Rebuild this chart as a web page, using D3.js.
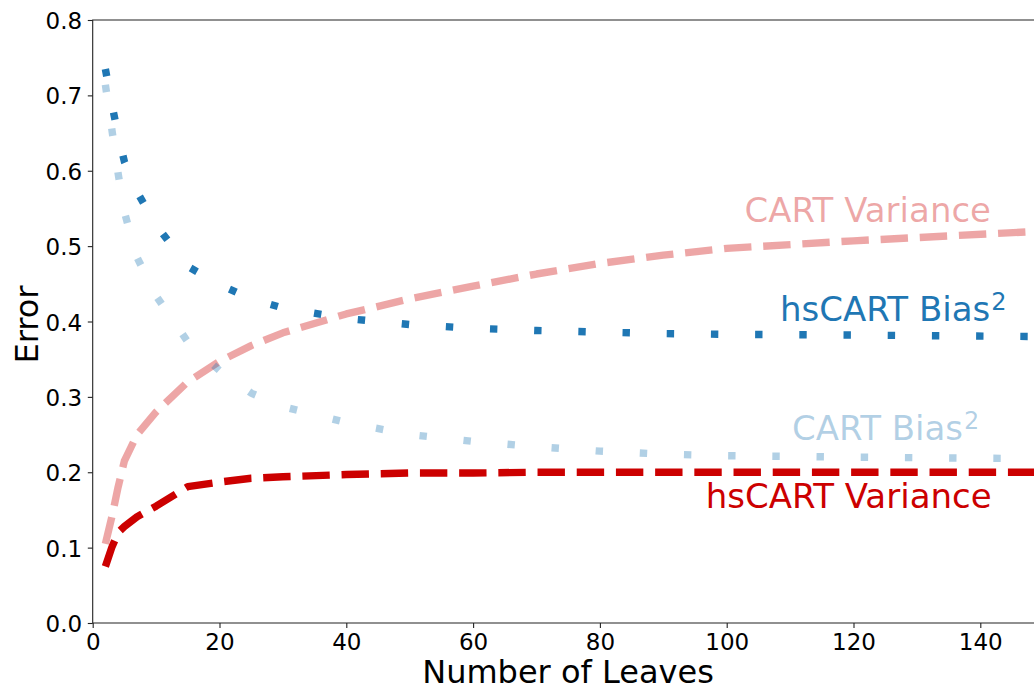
<!DOCTYPE html>
<html>
<head>
<meta charset="utf-8">
<script src="https://cdn.jsdelivr.net/npm/d3@7"></script>
<style>
  body { margin: 0; background: #fff; }
  svg { display: block; font-family: "DejaVu Sans", sans-serif; }
</style>
</head>
<body>
<div id="graphic"></div>
<script>
// Number of leaves (x grid shared by every series)
const leaves = [2, 3, 4, 5, 7, 10, 15, 20, 25, 30, 40, 50, 60, 70, 80, 90, 100, 120, 150];

// Error values
const cartVariance   = [0.105, 0.14, 0.18, 0.215, 0.25, 0.28, 0.32, 0.347, 0.368, 0.385, 0.41, 0.43, 0.447, 0.463, 0.477, 0.488, 0.497, 0.507, 0.52];
const hsCartVariance = [0.075, 0.10, 0.12, 0.128, 0.141, 0.155, 0.181, 0.187, 0.192, 0.194, 0.197, 0.199, 0.199, 0.2, 0.2, 0.2, 0.2, 0.2, 0.2];
const hsCartBias     = [0.735, 0.689, 0.648, 0.612, 0.572, 0.528, 0.473, 0.449, 0.43, 0.418, 0.404, 0.396, 0.391, 0.388, 0.386, 0.384, 0.383, 0.382, 0.38];
const cartBias       = [0.714, 0.656, 0.597, 0.545, 0.485, 0.434, 0.373, 0.335, 0.305, 0.287, 0.266, 0.25, 0.241, 0.234, 0.228, 0.224, 0.222, 0.22, 0.218];

// Axis ticks
const xTicks = [0, 20, 40, 60, 80, 100, 120, 140];
const yTicks = [0.0, 0.1, 0.2, 0.3, 0.4, 0.5, 0.6, 0.7, 0.8];

// Series labels (position in data units, text, superscript)
const labelNames = ["CART Variance", "hsCART Bias", "CART Bias", "hsCART Variance"];
const labelSup   = ["", "2", "2", ""];
const labelX     = [102.8, 108.4, 110.3, 96.7];
const labelY     = [0.532, 0.401, 0.243, 0.153];

(function(d3){

    let width = 1034, height = 689;
    let left = 92.7, top = 20, bottom = 623;
    let xMax = 150;

    let svg = d3.select('#graphic')
                .append('svg')
                .attr('width', width)
                .attr('height', height);

    let x = d3.scaleLinear().domain([0, xMax]).range([left, left + xMax * 6.34]);
    let y = d3.scaleLinear().domain([0, 0.8]).range([bottom, top]);

    let red = '#cc0000', blue = '#1f77b4';

    // Series styles
    let series = [
        { values: cartVariance,   color: red,  alpha: 0.35, dash: '27.4,11.8' },
        { values: hsCartVariance, color: red,  alpha: 1,    dash: '27.4,11.8' },
        { values: cartBias,       color: blue, alpha: 0.35, dash: '7.4,36.8' },
        { values: hsCartBias,     color: blue, alpha: 1,    dash: '7.4,36.8' }
    ];

    let line = d3.line()
        .x((d, i) => x(leaves[i]))
        .y(d => y(d));

    series.forEach(s => {
        svg.append('path')
            .attr('d', line(s.values))
            .attr('fill', 'none')
            .attr('stroke', s.color)
            .attr('stroke-opacity', s.alpha)
            .attr('stroke-width', 7.4)
            .attr('stroke-dasharray', s.dash)
            .attr('stroke-linecap', 'butt')
            .attr('stroke-linejoin', 'round');
    });

    // Axes
    let xAxis = d3.axisBottom(x).tickValues(xTicks).tickSize(4.9).tickPadding(4).tickFormat(d3.format('d'));
    let yAxis = d3.axisLeft(y).tickValues(yTicks).tickSize(4.9).tickPadding(4).tickFormat(d3.format('.1f'));

    let gx = svg.append('g')
        .attr('transform', `translate(0,${bottom})`)
        .call(xAxis);
    let gy = svg.append('g')
        .attr('transform', `translate(${left},0)`)
        .call(yAxis);

    [gx, gy].forEach(g => {
        g.attr('font-family', null).attr('font-size', null);
        g.select('.domain').remove();
        g.selectAll('line').attr('stroke', '#222').attr('stroke-width', 1.1);
        g.selectAll('text')
            .attr('fill', '#000')
            .style('font-size', '23px')
            .style('font-family', '"DejaVu Sans", sans-serif');
    });
    gx.selectAll('text').attr('dy', null).attr('y', 27);
    gy.selectAll('text').attr('dy', null).attr('y', 0).attr('x', -10.5)
        .attr('transform', 'translate(0,8.5)');

    // Spines: left, bottom, top (right side lies outside the picture)
    svg.append('path')
        .attr('d', `M${x(xMax)},${top}H${left}V${bottom}H${x(xMax)}`)
        .attr('fill', 'none')
        .attr('stroke', '#222')
        .attr('stroke-width', 1.1);

    // Axis titles
    svg.append('text')
        .attr('x', 568)
        .attr('y', 683)
        .attr('text-anchor', 'middle')
        .style('font-size', '32px')
        .text('Number of Leaves');

    svg.append('text')
        .attr('transform', `translate(38,${(top + bottom) / 2 + 3}) rotate(-90)`)
        .attr('text-anchor', 'middle')
        .style('font-size', '32px')
        .text('Error');

    // Series labels
    let labelColors = [series[0], series[3], series[2], series[1]];
    labelNames.forEach((name, i) => {
        let c = labelColors[i];
        let t = svg.append('text')
            .attr('x', x(labelX[i]))
            .attr('y', y(labelY[i]))
            .attr('fill', c.color)
            .attr('fill-opacity', c.alpha)
            .style('font-size', '34px')
            .text(name);
        if(labelSup[i]) {
            t.append('tspan')
                .attr('dy', -11)
                .attr('dx', 1)
                .style('font-size', '24px')
                .text(labelSup[i]);
        }
    });

})(window.d3);
</script>
</body>
</html>
